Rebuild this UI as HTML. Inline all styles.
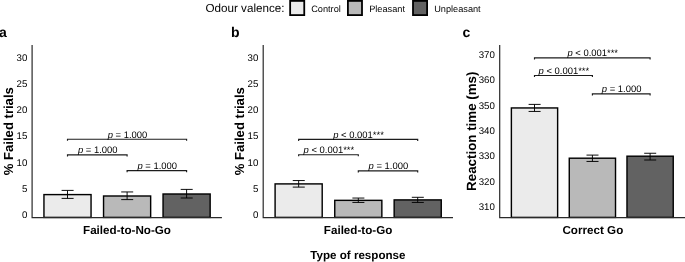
<!DOCTYPE html><html><head><meta charset="utf-8"><style>html,body{margin:0;padding:0;background:#fff}svg{display:block;will-change:transform}text{text-rendering:geometricPrecision;font-family:"Liberation Sans",sans-serif;fill:#000}.b{font-weight:bold}.t{font-size:9.7px;fill:#000}.s{font-size:9.45px;fill:#000}.i{font-style:italic}</style></head><body>
<svg width="685" height="262" viewBox="0 0 685 262">
<rect width="685" height="262" fill="#fff"/>
<text x="205.5" y="12.35" font-size="11.65">Odour valence:</text>
<rect x="290.15" y="0.9" width="14.1" height="14.2" fill="#ebebeb" stroke="#000" stroke-width="1.8"/>
<text x="311.2" y="12.0" font-size="9.2">Control</text>
<rect x="347.9" y="0.9" width="14.1" height="14.2" fill="#b9b9b9" stroke="#000" stroke-width="1.8"/>
<text x="369.2" y="12.0" font-size="9.2">Pleasant</text>
<rect x="413.0" y="0.9" width="14.1" height="14.2" fill="#626262" stroke="#000" stroke-width="1.8"/>
<text x="434.2" y="12.0" font-size="9.2">Unpleasant</text>
<text class="b" x="-0.9" y="37.1" font-size="14">a</text>
<text class="b" font-size="13.1" text-anchor="middle" transform="translate(13,131.2) rotate(-90)">% Failed trials</text>
<text class="t" x="27.30" y="218.00" text-anchor="end">0</text>
<text class="t" x="27.30" y="191.83" text-anchor="end">5</text>
<text class="t" x="27.30" y="165.66" text-anchor="end">10</text>
<text class="t" x="27.30" y="139.49" text-anchor="end">15</text>
<text class="t" x="27.30" y="113.32" text-anchor="end">20</text>
<text class="t" x="27.30" y="87.15" text-anchor="end">25</text>
<text class="t" x="27.30" y="60.98" text-anchor="end">30</text>
<rect x="43.95" y="194.6" width="47.10" height="22.80" fill="#ebebeb" stroke="#000" stroke-width="1.42"/>
<path d="M67.50 190.4V198.4M61.60 190.4h12M61.60 198.4h12" stroke="#000" stroke-width="0.95" fill="none"/>
<rect x="103.55" y="196.0" width="47.10" height="21.40" fill="#b9b9b9" stroke="#000" stroke-width="1.42"/>
<path d="M127.10 191.95V199.6M121.20 191.95h12M121.20 199.6h12" stroke="#000" stroke-width="0.95" fill="none"/>
<rect x="163.05" y="194.0" width="47.10" height="23.40" fill="#626262" stroke="#000" stroke-width="1.42"/>
<path d="M186.60 189.4V198.0M180.70 189.4h12M180.70 198.0h12" stroke="#000" stroke-width="0.95" fill="none"/>
<path d="M32.1 44.9V217.55H221.9" stroke="#2a2a2a" stroke-width="1.2" fill="none"/>
<path d="M67.50 140.79999999999998V139.2H186.60V140.79999999999998" stroke="#1c1c1c" stroke-width="1.15" fill="none"/>
<text class="s" x="127.45" y="137.60" text-anchor="middle"><tspan class="i">p</tspan> = 1.000</text>
<path d="M67.50 156.4V154.8H127.10V156.4" stroke="#1c1c1c" stroke-width="1.15" fill="none"/>
<text class="s" x="97.70" y="153.20" text-anchor="middle"><tspan class="i">p</tspan> = 1.000</text>
<path d="M127.10 172.2V170.6H186.60V172.2" stroke="#1c1c1c" stroke-width="1.15" fill="none"/>
<text class="s" x="157.25" y="169.00" text-anchor="middle"><tspan class="i">p</tspan> = 1.000</text>
<text class="b" x="127.00" y="234.1" font-size="11.65" text-anchor="middle">Failed-to-No-Go</text>
<text class="b" x="231" y="37.1" font-size="14">b</text>
<text class="b" font-size="13.1" text-anchor="middle" transform="translate(244,131.2) rotate(-90)">% Failed trials</text>
<text class="t" x="258.40" y="218.00" text-anchor="end">0</text>
<text class="t" x="258.40" y="191.83" text-anchor="end">5</text>
<text class="t" x="258.40" y="165.66" text-anchor="end">10</text>
<text class="t" x="258.40" y="139.49" text-anchor="end">15</text>
<text class="t" x="258.40" y="113.32" text-anchor="end">20</text>
<text class="t" x="258.40" y="87.15" text-anchor="end">25</text>
<text class="t" x="258.40" y="60.98" text-anchor="end">30</text>
<rect x="275.10" y="183.9" width="47.10" height="33.50" fill="#ebebeb" stroke="#000" stroke-width="1.42"/>
<path d="M298.65 180.55V187.1M292.75 180.55h12M292.75 187.1h12" stroke="#000" stroke-width="0.95" fill="none"/>
<rect x="334.75" y="200.35" width="47.10" height="17.05" fill="#b9b9b9" stroke="#000" stroke-width="1.42"/>
<path d="M358.30 198.05V202.45M352.40 198.05h12M352.40 202.45h12" stroke="#000" stroke-width="0.95" fill="none"/>
<rect x="394.15" y="199.9" width="47.10" height="17.50" fill="#626262" stroke="#000" stroke-width="1.42"/>
<path d="M417.70 197.3V202.45M411.80 197.3h12M411.80 202.45h12" stroke="#000" stroke-width="0.95" fill="none"/>
<path d="M263.2 44.9V217.55H453.0" stroke="#2a2a2a" stroke-width="1.2" fill="none"/>
<path d="M298.65 141.0V139.4H417.70V141.0" stroke="#1c1c1c" stroke-width="1.15" fill="none"/>
<text class="s" x="358.57" y="137.80" text-anchor="middle"><tspan class="i">p</tspan> &lt; 0.001***</text>
<path d="M298.65 156.35V154.75H358.30V156.35" stroke="#1c1c1c" stroke-width="1.15" fill="none"/>
<text class="s" x="328.88" y="153.15" text-anchor="middle"><tspan class="i">p</tspan> &lt; 0.001***</text>
<path d="M358.30 172.4V170.8H417.70V172.4" stroke="#1c1c1c" stroke-width="1.15" fill="none"/>
<text class="s" x="388.40" y="169.20" text-anchor="middle"><tspan class="i">p</tspan> = 1.000</text>
<text class="b" x="358.10" y="234.1" font-size="11.65" text-anchor="middle">Failed-to-Go</text>
<text class="b" x="462.6" y="37.1" font-size="14">c</text>
<text class="b" font-size="13.35" text-anchor="middle" transform="translate(475.6,131.2) rotate(-90)">Reaction time (ms)</text>
<text class="t" x="494.90" y="210.20" text-anchor="end">310</text>
<text class="t" x="494.90" y="184.80" text-anchor="end">320</text>
<text class="t" x="494.90" y="159.40" text-anchor="end">330</text>
<text class="t" x="494.90" y="134.00" text-anchor="end">340</text>
<text class="t" x="494.90" y="108.60" text-anchor="end">350</text>
<text class="t" x="494.90" y="83.20" text-anchor="end">360</text>
<text class="t" x="494.90" y="57.80" text-anchor="end">370</text>
<rect x="511.38" y="107.95" width="46.25" height="109.45" fill="#ebebeb" stroke="#000" stroke-width="1.42"/>
<path d="M534.50 104.4V111.45M528.60 104.4h12M528.60 111.45h12" stroke="#000" stroke-width="0.95" fill="none"/>
<rect x="569.27" y="158.2" width="46.25" height="59.20" fill="#b9b9b9" stroke="#000" stroke-width="1.42"/>
<path d="M592.40 155.1V161.45M586.50 155.1h12M586.50 161.45h12" stroke="#000" stroke-width="0.95" fill="none"/>
<rect x="626.98" y="156.2" width="46.25" height="61.20" fill="#626262" stroke="#000" stroke-width="1.42"/>
<path d="M650.10 153.25V160.0M644.20 153.25h12M644.20 160.0h12" stroke="#000" stroke-width="0.95" fill="none"/>
<path d="M499.7 44.9V217.55H686" stroke="#2a2a2a" stroke-width="1.2" fill="none"/>
<path d="M534.50 59.45V57.85H650.10V59.45" stroke="#1c1c1c" stroke-width="1.15" fill="none"/>
<text class="s" x="592.70" y="56.25" text-anchor="middle"><tspan class="i">p</tspan> &lt; 0.001***</text>
<path d="M534.50 77.1V75.5H592.40V77.1" stroke="#1c1c1c" stroke-width="1.15" fill="none"/>
<text class="s" x="563.85" y="73.90" text-anchor="middle"><tspan class="i">p</tspan> &lt; 0.001***</text>
<path d="M592.40 95.39999999999999V93.8H650.10V95.39999999999999" stroke="#1c1c1c" stroke-width="1.15" fill="none"/>
<text class="s" x="621.65" y="92.20" text-anchor="middle"><tspan class="i">p</tspan> = 1.000</text>
<text class="b" x="592.85" y="234.1" font-size="11.65" text-anchor="middle">Correct Go</text>
<text class="b" x="357.9" y="259.35" font-size="11.6" text-anchor="middle">Type of response</text>
</svg></body></html>
